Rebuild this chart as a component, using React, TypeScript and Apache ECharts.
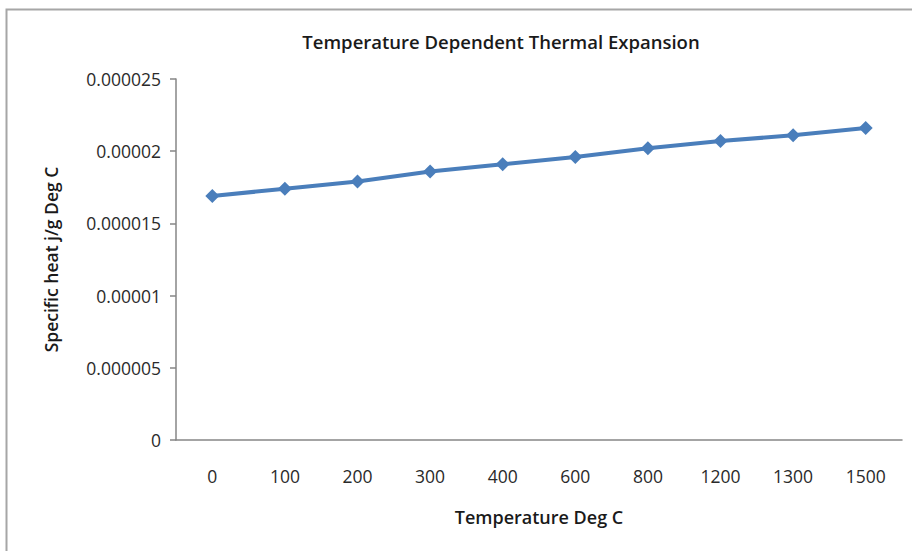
import React, { useEffect, useRef } from "react";
import * as echarts from "echarts";

const temperatures = ["0", "100", "200", "300", "400", "600", "800", "1200", "1300", "1500"];
const expansion = [1.69e-5, 1.74e-5, 1.79e-5, 1.86e-5, 1.91e-5, 1.96e-5, 2.02e-5, 2.07e-5, 2.11e-5, 2.16e-5];
const yTickLabels = ["0", "0.000005", "0.00001", "0.000015", "0.00002", "0.000025"];
const yStep = 5e-6;

const chartTitle = "Temperature Dependent Thermal Expansion";
const xAxisName = "Temperature Deg C";
const yAxisName = "Specific heat j/g Deg C";

const labelFont = "'Open Sans', sans-serif";

export default function App() {
  const ref = useRef<HTMLDivElement>(null);

  useEffect(() => {
    if (!ref.current) return;
    const chart = echarts.init(ref.current, undefined, { renderer: "svg" });
    chart.setOption({
      animation: false,
      backgroundColor: "#ffffff",
      title: {
        text: chartTitle,
        left: 496,
        top: 27,
        textAlign: "center",
        textStyle: {
          fontFamily: labelFont,
          fontSize: 18.5,
          fontWeight: 600,
          color: "#1a1a1a",
        },
      },
      graphic: [
        {
          type: "rect",
          shape: { x: 6.5, y: 9.5, width: 1000, height: 700 },
          style: { fill: "none", stroke: "#a6a6a6", lineWidth: 2 },
          silent: true,
        },
      ],
      grid: { left: 176, top: 79, right: 10, bottom: 111 },
      xAxis: {
        type: "category",
        data: temperatures,
        boundaryGap: true,
        name: xAxisName,
        nameLocation: "middle",
        nameGap: 68,
        nameTextStyle: {
          fontFamily: labelFont,
          fontSize: 18,
          fontWeight: 600,
          color: "#1a1a1a",
        },
        axisLine: { lineStyle: { color: "#868686", width: 1.5 } },
        axisTick: { show: false },
        axisLabel: {
          margin: 27,
          fontFamily: labelFont,
          fontSize: 17.5,
          color: "#2a2a2a",
        },
        splitLine: { show: false },
      },
      yAxis: {
        type: "value",
        min: 0,
        max: 25e-6,
        interval: yStep,
        name: yAxisName,
        nameLocation: "middle",
        nameRotate: 90,
        nameGap: 116,
        nameTextStyle: {
          fontFamily: labelFont,
          fontSize: 17.5,
          fontWeight: 600,
          color: "#1a1a1a",
        },
        axisLine: { show: true, lineStyle: { color: "#868686", width: 1.5 } },
        axisTick: { show: true, length: 6, lineStyle: { color: "#868686", width: 1.5 } },
        axisLabel: {
          margin: 15,
          fontFamily: labelFont,
          fontSize: 17.5,
          color: "#2a2a2a",
          formatter: (v: number) => yTickLabels[Math.round(v / yStep)] ?? "",
        },
        splitLine: { show: false },
      },
      series: [
        {
          type: "line",
          data: expansion,
          symbol: "diamond",
          symbolSize: 14,
          lineStyle: { color: "#4a7ebb", width: 4 },
          itemStyle: { color: "#4a7ebb" },
        },
      ],
    });
    return () => chart.dispose();
  }, []);

  return (
    <div
      ref={ref}
      style={{ position: "absolute", left: 0, top: 0, width: 912, height: 551 }}
    />
  );
}
